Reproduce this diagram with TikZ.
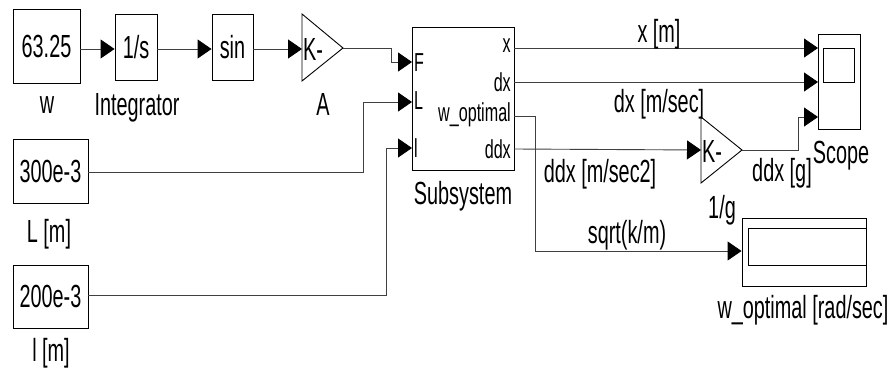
\documentclass[tikz,border=0pt]{standalone}
\usepackage{fontspec}
\setmainfont{Liberation Sans}[FakeStretch=0.62]
\usetikzlibrary{arrows.meta,calc}
\newcommand\dgbig{\fontsize{32}{36}\selectfont}
\newcommand\dgport{\fontsize{26}{30}\selectfont}
\begin{document}
\begin{tikzpicture}[x=1pt,y=-1pt,
  blk/.style={draw=black, line width=0.9pt, inner sep=0pt, font=\dgbig},
  wire/.style={draw=black!75, line width=0.9pt},
  arr/.style={wire, -{Triangle[length=14pt,width=19pt,fill=black,color=black]}},
  lbl/.style={anchor=base, inner sep=0pt, font=\dgbig},
  portl/.style={anchor=west, inner sep=0pt, font=\dgport},
  portr/.style={anchor=east, inner sep=0pt, font=\dgport}]
\useasboundingbox (0,0) rectangle (888,369);
% blocks
\node[blk, minimum width=67pt, minimum height=74pt] (w) at (46.5,46) {63.25};
\node[blk, minimum width=42pt, minimum height=66pt] (integ) at (136,47) {1/s};
\node[blk, minimum width=41pt, minimum height=66pt] (sinb) at (232.5,47) {sin};
\node[blk, minimum width=102pt, minimum height=143pt] (sub) at (463,98.5) {};
\node[blk, minimum width=75pt, minimum height=64pt] (Lb) at (50.5,171) {300e-3};
\node[blk, minimum width=75pt, minimum height=63pt] (lb) at (50.5,296.5) {200e-3};
\node[blk, minimum width=42pt, minimum height=95pt] (scope) at (839,81.5) {};
\node[blk, minimum width=124pt, minimum height=68pt] (disp) at (804,252) {};
% scope screen and display inner
\draw[line width=0.9pt] (823,48) rectangle (854,82);
\draw[line width=0.9pt] (867,228) -- (748,228) -- (748,265) -- (867,265);
% gains
\coordinate (Ain) at (302,48);
\coordinate (Aout) at (343,48);
\draw[line width=0.9pt] (302,14) -- (302,81) -- (Aout) -- cycle;
\node[anchor=west, inner sep=0pt, font=\dgbig] (Ak) at (303,49) {K-};
\coordinate (Gin) at (701,150);
\coordinate (Gout) at (742,150);
\draw[line width=0.9pt] (701,117) -- (701,183) -- (Gout) -- cycle;
\node[anchor=west, inner sep=0pt, font=\dgbig] (Gk) at (702,151) {K-};
% ports
\coordinate (row) at (0,49);
\coordinate (sF) at (412,62);
\coordinate (sL) at (412,102);
\coordinate (sI) at (412,148);
\coordinate (ox) at (514,48);
\coordinate (odx) at (514,82);
\coordinate (ow) at (514,116);
\coordinate (oddx) at (514,149);
\coordinate (c1) at (818,48);
\coordinate (c2) at (818,82);
\coordinate (c3) at (818,117);
\node[portl] (pF) at (414,63) {F};
\node[portl] (pL) at (414,101) {L};
\node[portl] (pI) at (414,148) {l};
\node[portr] (px) at (511,46) {x};
\node[portr] (pdx) at (511,82) {dx};
\node[portr] (pw) at (511,115) {w\_optimal};
\node[portr] (pddx) at (511,149) {ddx};
% wires
\draw[arr] (w.east |- row) -- (integ.west |- row);
\draw[arr] (integ.east |- row) -- (sinb.west |- row);
\draw[arr] (sinb.east |- row) -- (Ain |- row);
\draw[arr] (Aout) -- (391,48) |- (sF);
\draw[arr] (Lb.east |- 0,172) -- (363,172) |- (sL);
\draw[arr] (lb.east |- 0,295) -- (386,295) |- (sI);
\draw[arr] (ox) -- (c1);
\draw[arr] (odx) -- (c2);
\draw[arr] (ow) -- (535,116) |- (disp.west |- 0,251);
\draw[arr] (oddx) -- (Gin);
\draw[arr] (Gout) -- (798,150) |- (c3);
% labels
\node[lbl] (lw) at (47,113) {w};
\node[lbl] (lint) at (137,115) {Integrator};
\node[lbl] (lA) at (323,115) {A};
\node[lbl] (lL) at (49,242) {L [m]};
\node[lbl] (ll) at (51,361) {l [m]};
\node[lbl] (lsub) at (463,204) {Subsystem};
\node[lbl] (lx) at (659,42) {x [m]};
\node[lbl] (ldx) at (659,112) {dx [m/sec]};
\node[lbl] (lddx) at (600,182) {ddx [m/sec2]};
\node[lbl] (lddxg) at (782,181) {ddx [g]};
\node[lbl] (lscope) at (841,163) {Scope};
\node[lbl] (lg) at (722,218) {1/g};
\node[lbl] (lsq) at (627,243) {sqrt(k/m)};
\node[lbl] (lwo) at (803,318) {w\_optimal [rad/sec]};
\end{tikzpicture}
\end{document}
